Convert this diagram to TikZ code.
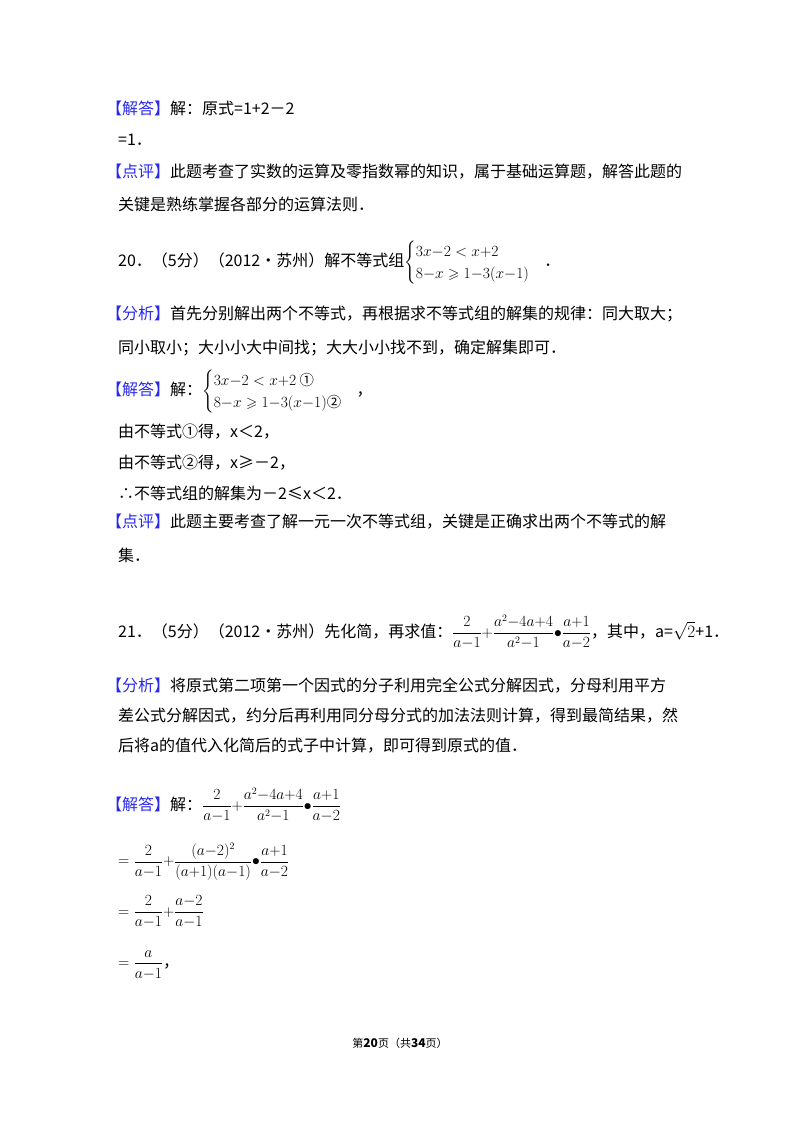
\documentclass[tikz,border=0pt]{standalone}
\usepackage{amsmath,amssymb}
\usepackage{fontspec}
\setmainfont{Noto Sans CJK SC}
\definecolor{bl}{RGB}{40,40,240}
\newcommand{\bk}[1]{\textcolor{bl}{【#1】}}
\newcommand{\sm}[1]{\scalebox{0.9}{#1}}
\begin{document}
\begin{tikzpicture}[x=1pt,y=-1pt,
  t/.style={anchor=west,inner sep=0pt,font=\fontsize{16}{20}\selectfont}]
\useasboundingbox (0,0) rectangle (800,1132);
\node[t] (l1) at (106,108) {\bk{解答}解：原式=1+2－2};
\node[t] (l2) at (118,140) {=1．};
\node[t] (l3) at (106,172) {\bk{点评}此题考查了实数的运算及零指数幂的知识，属于基础运算题，解答此题的};
\node[t] (l4) at (118,204) {关键是熟练掌握各部分的运算法则．};
\node[t] (l5) at (118,263) {20．（5分）（2012•苏州）解不等式组\sm{$\begin{cases}3x{-}2<x{+}2\\ 8{-}x\geqslant 1{-}3(x{-}1)\end{cases}$}．};
\node[t] (l6) at (106,314) {\bk{分析}首先分别解出两个不等式，再根据求不等式组的解集的规律：同大取大；};
\node[t] (l7) at (118,348) {同小取小；大小小大中间找；大大小小找不到，确定解集即可．};
\node[t] (l8) at (106,392) {\bk{解答}解：\sm{$\begin{cases}3x{-}2<x{+}2 \text{ ①}\\ 8{-}x\geqslant 1{-}3(x{-}1)\text{②}\end{cases}$}，};
\node[t] (l9) at (118,432) {由不等式①得，x＜2，};
\node[t] (l10) at (118,463) {由不等式②得，x≥－2，};
\node[t] (l11) at (118,493) {∴不等式组的解集为－2≤x＜2．};
\node[t] (l12) at (106,522) {\bk{点评}此题主要考查了解一元一次不等式组，关键是正确求出两个不等式的解};
\node[t] (l13) at (118,555) {集．};
\node[t] (l14) at (118,632) {21．（5分）（2012•苏州）先化简，再求值：\sm{$\dfrac{2}{a{-}1}{+}\dfrac{a^2{-}4a{+}4}{a^2{-}1}{\bullet}\dfrac{a{+}1}{a{-}2}$}，其中，a=$\sqrt{2}$+1．};
\node[t] (l15) at (106,686) {\bk{分析}将原式第二项第一个因式的分子利用完全公式分解因式，分母利用平方};
\node[t] (l16) at (118,716) {差公式分解因式，约分后再利用同分母分式的加法法则计算，得到最简结果，然};
\node[t] (l17) at (118,746) {后将a的值代入化简后的式子中计算，即可得到原式的值．};
\node[t] (l18) at (106,805) {\bk{解答}解：\sm{$\dfrac{2}{a{-}1}{+}\dfrac{a^2{-}4a{+}4}{a^2{-}1}{\bullet}\dfrac{a{+}1}{a{-}2}$}};
\node[t] (l19) at (118,862) {\sm{$={}\dfrac{2}{a{-}1}{+}\dfrac{(a{-}2)^2}{(a{+}1)(a{-}1)}{\bullet}\dfrac{a{+}1}{a{-}2}$}};
\node[t] (l20) at (118,912) {\sm{$={}\dfrac{2}{a{-}1}{+}\dfrac{a{-}2}{a{-}1}$}};
\node[t] (l21) at (118,965) {\sm{$={}\dfrac{a}{a{-}1}$}，};
\node[anchor=center,inner sep=0pt,font=\fontsize{11}{13}\selectfont] (ft) at (400,1043) {第\textbf{\large 20}页（共\textbf{\large 34}页）};
\end{tikzpicture}
\end{document}
